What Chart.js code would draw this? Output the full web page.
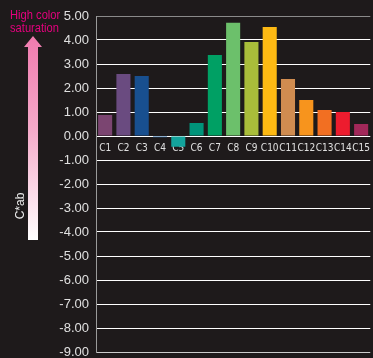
<!DOCTYPE html>
<html>
<head>
<meta charset="utf-8">
<script src="https://cdn.jsdelivr.net/npm/chart.js@4"></script>
<style>
  html, body { margin: 0; padding: 0; background: #1e1a1b; overflow: hidden; }
  #wrap { position: relative; width: 373px; height: 358px; overflow: hidden; }
  #chartBox { position: absolute; left: 0; top: 0; width: 376px; height: 358px; }
  .note { position: absolute; font-family: "Liberation Sans", Arial, sans-serif; }
  #high { left: 10px; top: 9px; color: #e6007e; font-size: 12px; line-height: 13px; transform: scaleX(0.93); transform-origin: left top; white-space: nowrap; }
  #cab { left: 20px; top: 206px; color: #eeeeee; font-size: 12px; transform: translate(-50%, -50%) rotate(-90deg); white-space: nowrap; }
  #arrow { position: absolute; left: 0; top: 0; }
</style>
</head>
<body>
<div id="wrap">
  <div id="chartBox"><canvas id="chart"></canvas></div>
  <svg id="arrow" width="60" height="250">
    <defs>
      <linearGradient id="pinkGrad" x1="0" y1="0" x2="0" y2="1">
        <stop offset="0" stop-color="#f07aae"/>
        <stop offset="0.45" stop-color="#f5a9c9"/>
        <stop offset="1" stop-color="#ffffff"/>
      </linearGradient>
    </defs>
    <polygon points="33,36 42,47 38,47 38,240 28,240 28,47 24,47" fill="url(#pinkGrad)"/>
  </svg>
  <div class="note" id="high">High color<br>saturation</div>
  <div class="note" id="cab">C*ab</div>
</div>
<script>
/* data */
const categories = ["C1", "C2", "C3", "C4", "C5", "C6", "C7", "C8", "C9", "C10", "C11", "C12", "C13", "C14", "C15"];
const values = [0.88, 2.58, 2.50, -0.05, -0.45, 0.54, 3.38, 4.72, 3.92, 4.54, 2.38, 1.50, 1.08, 1.00, 0.50];
const barColors = ["#7b4571", "#6a4b80", "#184f8f", "#1d5d99", "#13a39c", "#00947a", "#00a064", "#6cc06b",
                   "#a9bd3a", "#fdb913", "#d08c50", "#f7941d", "#f26f22", "#ed1c2e", "#a2285a"];
const Y_MIN = -9;
const Y_MAX = 5;

new Chart(document.getElementById("chart"), {
  type: "bar",
  data: {
    labels: categories,
    datasets: [{
      data: values,
      backgroundColor: barColors,
      borderWidth: 0,
      barPercentage: 0.77,
      categoryPercentage: 1.0
    }]
  },
  options: {
    responsive: true,
    maintainAspectRatio: false,
    animation: false,
    layout: { padding: { left: 0, right: 0, top: 16, bottom: 6 } },
    plugins: { legend: { display: false }, tooltip: { enabled: false } },
    scales: {
      x: {
        position: { y: 0 },
        grid: { display: false, drawTicks: false },
        border: { display: false },
        ticks: {
          color: "#e0e0e0",
          font: { family: "'DejaVu Sans Condensed', 'Liberation Sans'", size: 10 },
          padding: 6,
          autoSkip: false,
          maxRotation: 0
        }
      },
      y: {
        min: Y_MIN,
        max: Y_MAX,
        afterFit: (scale) => {
          scale.width = 96;
          scale.paddingTop = 0;
          scale.paddingBottom = 0;
        },
        grid: {
          drawTicks: false,
          color: (ctx) => ctx.tick.value === Y_MAX ? "#8a8a8a" : (ctx.tick.value === Y_MIN ? "#cccccc" : "#ffffff"),
          lineWidth: 1
        },
        border: { display: true, color: "#9a9a9a", width: 1 },
        ticks: {
          stepSize: 1,
          color: "#e0e0e0",
          padding: 7,
          font: { family: "Liberation Sans", size: 13 },
          callback: (v) => v.toFixed(2)
        }
      }
    }
  }
});
</script>
</body>
</html>
